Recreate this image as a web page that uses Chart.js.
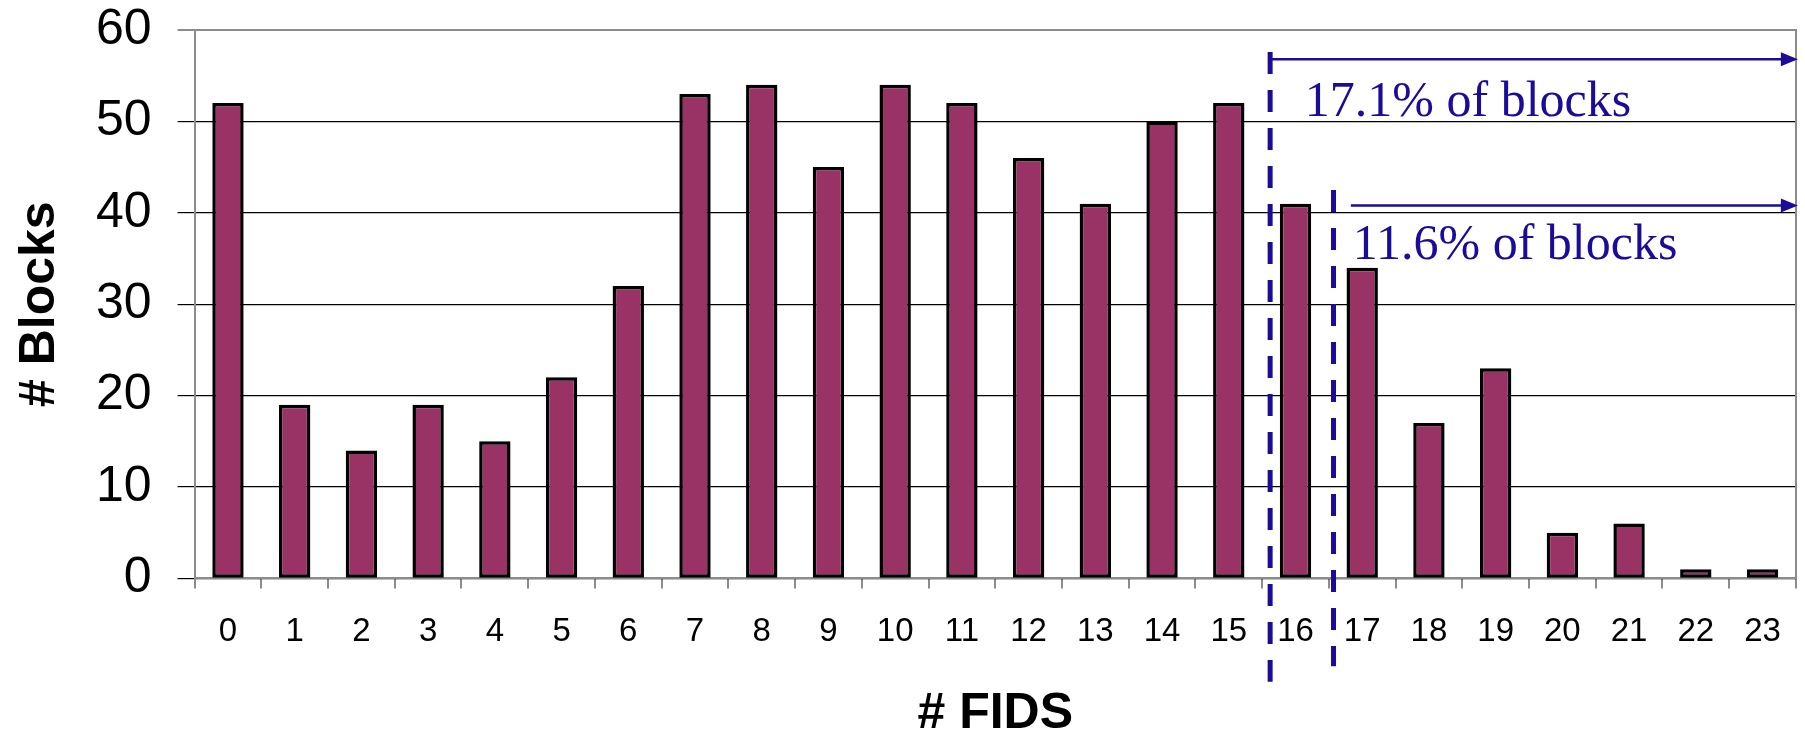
<!DOCTYPE html>
<html>
<head>
<meta charset="utf-8">
<script src="https://cdn.jsdelivr.net/npm/chart.js@4"></script>
<style>
  html, body { margin: 0; padding: 0; background: #fff; }
  #wrap { width: 1805px; height: 732px; }
</style>
</head>
<body>
<div id="wrap"><canvas id="fidsChart" width="1805" height="732"></canvas></div>
<script>
// data
const fidsLabels = ['0','1','2','3','4','5','6','7','8','9','10','11','12','13','14','15','16','17','18','19','20','21','22','23'];
const blockCounts = [52, 19, 14, 19, 15, 22, 32, 53, 54, 45, 54, 52, 46, 41, 50, 52, 41, 34, 17, 23, 5, 6, 1, 1];
const yTickValues = [0, 10, 20, 30, 40, 50, 60];
const cutoffTexts = ['17.1% of blocks', '11.6% of blocks'];

const BLUE = '#1a0c99';
const GREY = '#8c8c8c';

// dashed cut-off lines + arrows + texts, placed in data units
const cutoffPlugin = {
  id: 'cutoffs',
  afterDatasetsDraw(chart) {
    const c = chart.ctx;
    const xs = chart.scales.x;
    const ys = chart.scales.y;
    const right = chart.chartArea.right;
    const marks = [
      { x: 15.62, top: 57.6, bottom: -11.3, arrowX: 15.62, arrowY: 56.8, textX: 16.14, textY: 50.6 },
      { x: 16.57, top: 42.5, bottom: -9.6, arrowX: 16.83, arrowY: 40.8, textX: 16.86, textY: 34.9 }
    ];
    c.save();
    marks.forEach((m, i) => {
      const px = xs.getPixelForValue(m.x);
      // dashed vertical
      c.strokeStyle = BLUE;
      c.lineWidth = 5;
      c.setLineDash([22, 16]);
      c.beginPath();
      c.moveTo(px, ys.getPixelForValue(m.top));
      c.lineTo(px, ys.getPixelForValue(m.bottom));
      c.stroke();
      // arrow
      const ay = ys.getPixelForValue(m.arrowY);
      c.setLineDash([]);
      c.lineWidth = 2.5;
      c.beginPath();
      c.moveTo(xs.getPixelForValue(m.arrowX), ay);
      c.lineTo(right - 12, ay);
      c.stroke();
      c.fillStyle = BLUE;
      c.beginPath();
      c.moveTo(right + 2, ay);
      c.lineTo(right - 15, ay - 7);
      c.lineTo(right - 15, ay + 7);
      c.closePath();
      c.fill();
      // text
      c.font = '50px "Liberation Serif", serif';
      c.textAlign = 'left';
      c.textBaseline = 'alphabetic';
      c.fillText(cutoffTexts[i], xs.getPixelForValue(m.textX), ys.getPixelForValue(m.textY));
    });
    c.restore();
  }
};

const ctx = document.getElementById('fidsChart').getContext('2d');

const fidsChart = new Chart(ctx, {
  type: 'bar',
  data: {
    labels: fidsLabels,
    datasets: [{
      data: blockCounts,
      backgroundColor: '#993366',
      borderColor: '#000000',
      borderWidth: 3.5,
      borderSkipped: false,
      barPercentage: 0.47,
      categoryPercentage: 1.0
    }]
  },
  options: {
    responsive: false,
    animation: false,
    layout: { padding: { top: 30, right: 6, left: 0, bottom: 0 } },
    plugins: {
      legend: { display: false },
      tooltip: { enabled: false }
    },
    scales: {
      x: {
        offset: true,
        grid: {
          offset: true,
          drawOnChartArea: false,
          drawTicks: true,
          tickLength: 10,
          color: GREY,
          lineWidth: 2
        },
        border: { display: true, color: GREY, width: 2 },
        ticks: {
          color: '#000',
          padding: 24,
          maxRotation: 0,
          autoSkip: false,
          font: { family: '"Liberation Sans", Arial, sans-serif', size: 33 }
        },
        title: {
          display: true,
          text: '# FIDS',
          color: '#000',
          padding: { top: 20, bottom: 0 },
          font: { family: '"Liberation Sans", Arial, sans-serif', size: 50, weight: 'bold', lineHeight: 0.72 }
        }
      },
      y: {
        min: 0,
        max: 60,
        afterBuildTicks(scale) {
          scale.ticks = yTickValues.map(v => ({ value: v }));
        },
        grid: {
          drawTicks: true,
          tickLength: 17,
          color: ctx => (ctx.tick && ctx.tick.value === 60) ? GREY : '#000000',
          lineWidth: ctx => (ctx.tick && ctx.tick.value === 60) ? 2 : 1.2
        },
        border: { display: true, color: GREY, width: 2 },
        ticks: {
          color: '#000',
          padding: 26,
          font: { family: '"Liberation Sans", Arial, sans-serif', size: 50, lineHeight: 0.1 }
        },
        title: {
          display: true,
          text: '# Blocks',
          color: '#000',
          padding: { top: 10, bottom: 0 },
          font: { family: '"Liberation Sans", Arial, sans-serif', size: 50, weight: 'bold', lineHeight: 1.2 }
        }
      },
      yRight: {
        position: 'right',
        min: 0,
        max: 60,
        grid: { drawOnChartArea: false, drawTicks: false },
        border: { display: true, color: GREY, width: 2 },
        ticks: { display: false }
      }
    }
  },
  plugins: [cutoffPlugin]
});
</script>
</body>
</html>
